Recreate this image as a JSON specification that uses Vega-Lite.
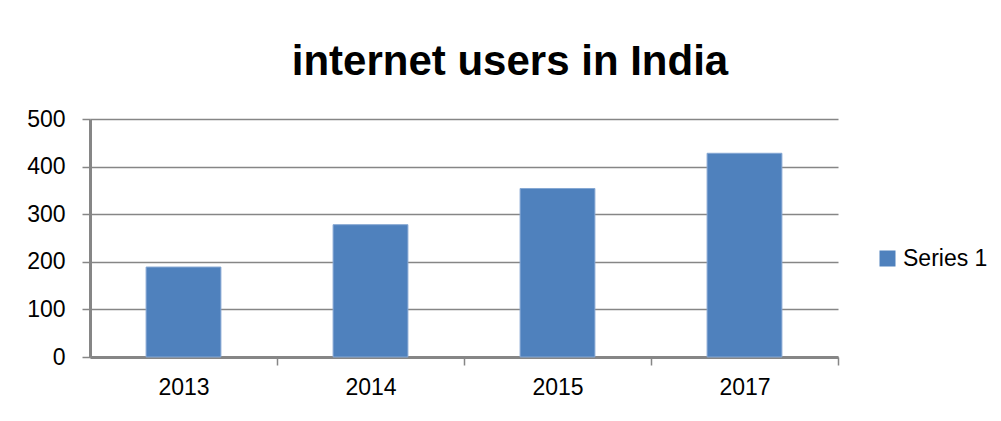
{
  "$schema": "https://vega.github.io/schema/vega-lite/v6.json",
  "autosize": {"type": "none"},
  "width": 748,
  "height": 238,
  "padding": {"left": 90, "top": 119, "right": 163, "bottom": 64},
  "background": "white",
  "title": {
    "text": "internet users in India",
    "font": "Liberation Sans",
    "fontSize": 42,
    "fontWeight": "bold",
    "color": "#000000",
    "anchor": "middle",
    "frame": "group",
    "dx": 46,
    "offset": 24
  },
  "data": {
    "values": [
      {"year": "2013", "users": 189},
      {"year": "2014", "users": 278},
      {"year": "2015", "users": 354},
      {"year": "2017", "users": 428}
    ]
  },
  "mark": {"type": "bar", "stroke": "#85A7D3", "strokeWidth": 1},
  "encoding": {
    "x": {
      "field": "year",
      "type": "nominal",
      "sort": null,
      "scale": {"paddingInner": 0.6, "paddingOuter": 0.3},
      "axis": {
        "title": null,
        "labelAngle": 0,
        "tickOffset": 93.5,
        "labelOffset": -93.5,
        "tickSize": 8,
        "tickColor": "#868686",
        "tickWidth": 1.5,
        "domainColor": "#868686",
        "domainWidth": 3,
        "labelPadding": 11,
        "grid": false
      }
    },
    "y": {
      "field": "users",
      "type": "quantitative",
      "scale": {"domain": [0, 500], "nice": false},
      "axis": {
        "title": null,
        "values": [0, 100, 200, 300, 400, 500],
        "tickSize": 8,
        "tickColor": "#868686",
        "tickWidth": 1.5,
        "domainColor": "#868686",
        "domainWidth": 3,
        "gridColor": "#868686",
        "gridWidth": 1.5,
        "labelPadding": 17
      }
    },
    "color": {
      "datum": "Series 1",
      "scale": {"range": ["#4F81BD"]},
      "legend": {
        "title": null,
        "orient": "none",
        "legendX": 786,
        "legendY": 128,
        "symbolType": "square",
        "symbolSize": 256,
        "symbolStrokeWidth": 0,
        "labelOffset": 4
      }
    }
  },
  "config": {
    "font": "Liberation Sans",
    "view": {"stroke": null},
    "axis": {"labelFont": "Liberation Sans", "labelFontSize": 23, "labelColor": "#000000"},
    "legend": {"labelFont": "Liberation Sans", "labelFontSize": 23, "labelColor": "#000000"}
  }
}
